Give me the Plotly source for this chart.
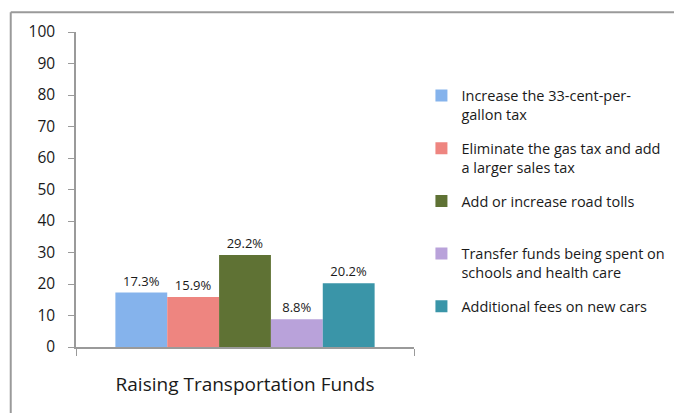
import plotly.graph_objects as go

category = ["Raising Transportation Funds"]
series_names = [
    "Increase the 33-cent-per-<br>gallon tax",
    "Eliminate the gas tax and add<br>a larger sales tax",
    "Add or increase road tolls<br> ",
    "Transfer funds being spent on<br>schools and health care",
    "Additional fees on new cars<br> ",
]
series_values = [17.3, 15.9, 29.2, 8.8, 20.2]
series_colors = ["#85b3ec", "#ee8580", "#5f7234", "#b9a2da", "#3a95a8"]
y_ticks = [0, 10, 20, 30, 40, 50, 60, 70, 80, 90, 100]

FONT = "Open Sans"
W, H = 674, 405
L, R, T, B = 68, 259, 21, 66
PW, PH = W - L - R, H - T - B

fig = go.Figure()
for i, (name, val, col) in enumerate(zip(series_names, series_values, series_colors)):
    fig.add_trace(go.Bar(
        x=category, y=[val], name=name, legendgroup=f"g{i}",
        marker=dict(color=col, line=dict(width=0)),
        texttemplate="%{y:.1f}%", textposition="outside",
        textfont=dict(family=FONT, size=13, color="#1a1a1a"),
        cliponaxis=False,
    ))

fig.update_layout(
    width=W, height=H,
    margin=dict(l=L, r=R, t=T, b=B),
    paper_bgcolor="white", plot_bgcolor="white",
    barmode="group", bargap=0.233, bargroupgap=0,
    font=dict(family=FONT, color="#1a1a1a"),
    legend=dict(
        x=1.022, xanchor="left", y=0.849, yanchor="top",
        font=dict(family=FONT, size=14.5, color="#1a1a1a"),
        valign="top", tracegroupgap=12, itemwidth=30,
        traceorder="grouped",
    ),
    shapes=[
        dict(type="line", xref="paper", yref="paper",
             x0=-(L - 1) / PW, x1=(W - L + 10) / PW,
             y0=1 + (T - 1) / PH, y1=1 + (T - 1) / PH,
             line=dict(color="#9a9a9a", width=2)),
        dict(type="line", xref="paper", yref="paper",
             x0=-(L - 1) / PW, x1=-(L - 1) / PW,
             y0=1 + (T - 1) / PH, y1=-(B + 10) / PH,
             line=dict(color="#9a9a9a", width=2)),
    ],
)
fig.update_yaxes(
    range=[0, 100], tickvals=y_ticks, ticks="outside", ticklen=6,
    tickcolor="#9a9a9a", showline=True, linecolor="#9a9a9a", linewidth=1.5,
    showgrid=False, zeroline=False,
    tickfont=dict(family=FONT, size=15.5, color="#1a1a1a"),
    ticklabelstandoff=10,
)
fig.update_xaxes(
    ticks="outside", tickson="boundaries", ticklen=7, tickcolor="#9a9a9a",
    showline=True, linecolor="#9a9a9a", linewidth=1.5, showgrid=False,
    tickfont=dict(family=FONT, size=19, color="#1a1a1a"),
    ticklabelstandoff=19,
)
fig.write_html("out.html")
